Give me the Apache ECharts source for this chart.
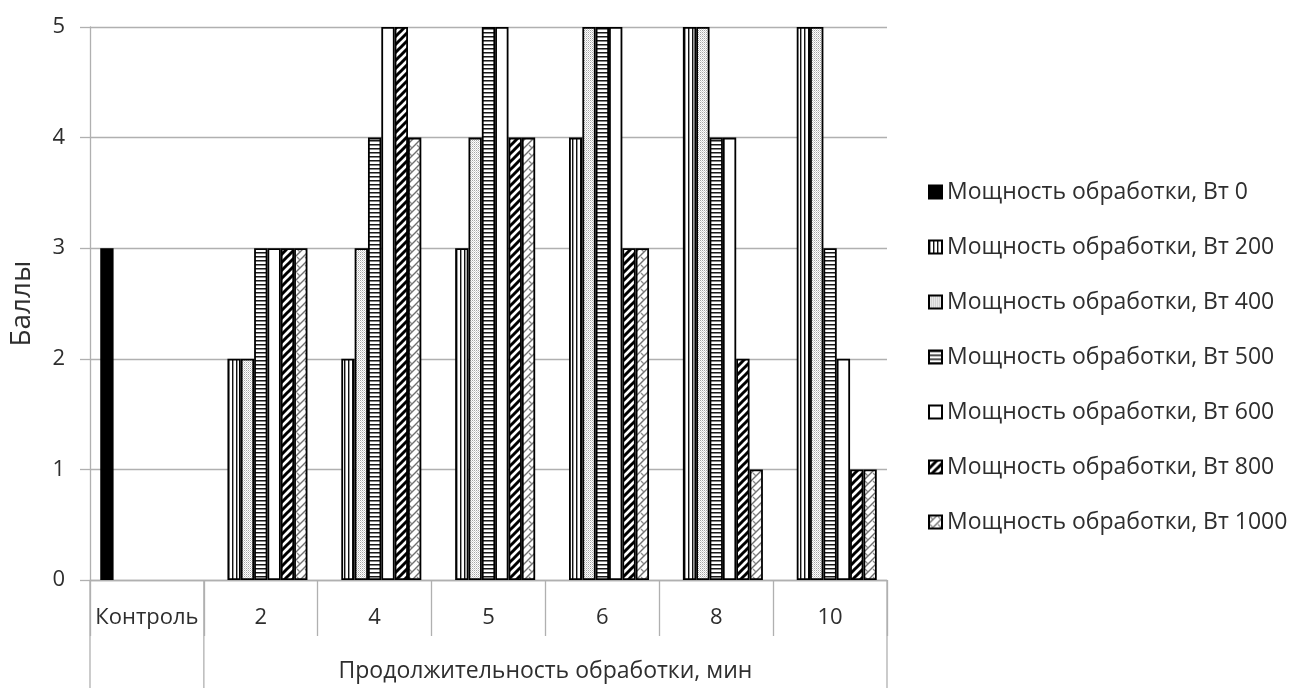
<!DOCTYPE html>
<html>
<head>
<meta charset="utf-8">
<title>Баллы</title>
<script src="https://cdn.jsdelivr.net/npm/echarts@6/dist/echarts.min.js"></script>
<style>
  html, body { margin: 0; padding: 0; background: #fff; }
  #chart { width: 1297px; height: 688px; }
</style>
</head>
<body>
<div id="chart"></div>
<script>
// Duration of treatment, min (first label is the untreated control)
const categories = ['Контроль', '2', '4', '5', '6', '8', '10'];
const groupTitle = 'Продолжительность обработки, мин';
const yTicks = [0, 1, 2, 3, 4, 5];

// Scores per treatment power, W
const seriesNames = [
  'Мощность обработки, Вт 0',
  'Мощность обработки, Вт 200',
  'Мощность обработки, Вт 400',
  'Мощность обработки, Вт 500',
  'Мощность обработки, Вт 600',
  'Мощность обработки, Вт 800',
  'Мощность обработки, Вт 1000'
];
const w0    = [3, null, null, null, null, null, null];
const w200  = [null, 2, 2, 3, 4, 5, 5];
const w400  = [null, 2, 3, 4, 5, 5, 5];
const w500  = [null, 3, 4, 5, 5, 4, 3];
const w600  = [null, 3, 5, 5, 5, 4, 2];
const w800  = [null, 3, 5, 4, 3, 2, 1];
const w1000 = [null, 3, 4, 4, 3, 1, 1];
const seriesValues = [w0, w200, w400, w500, w600, w800, w1000];

const FONT = '"Open Sans", "Noto Sans", sans-serif';
const TEXT = '#2e2e2e';
const GRID = '#b0b0b0';

// Monochrome fill patterns drawn on small tiles
function tile(w, h, draw) {
  const c = document.createElement('canvas');
  c.width = w; c.height = h;
  const ctx = c.getContext('2d');
  ctx.fillStyle = '#fff';
  ctx.fillRect(0, 0, w, h);
  draw(ctx, w, h);
  return { image: c, repeat: 'repeat' };
}
function diag(ctx, w, h, color, width) {
  ctx.strokeStyle = color;
  ctx.lineWidth = width;
  ctx.beginPath();
  ctx.moveTo(-1, h + 1); ctx.lineTo(w + 1, -1);
  ctx.moveTo(-w / 2 - 1, h / 2 + 1); ctx.lineTo(w / 2 + 1, -h / 2 - 1);
  ctx.moveTo(w / 2 - 1, h * 1.5 + 1); ctx.lineTo(w * 1.5 + 1, h / 2 - 1);
  ctx.stroke();
}
const fills = [
  '#000',
  tile(4, 4, (ctx) => { ctx.fillStyle = '#111'; ctx.fillRect(0, 0, 1, 4); ctx.fillStyle = '#999'; ctx.fillRect(1, 0, 1, 4); }),
  tile(2, 2, (ctx) => { ctx.fillStyle = '#a6a6a6'; ctx.fillRect(0, 0, 1, 1); ctx.fillStyle = '#d4d4d4'; ctx.fillRect(1, 1, 1, 1); }),
  tile(4, 4, (ctx) => { ctx.fillStyle = '#1a1a1a'; ctx.fillRect(0, 0, 4, 1); ctx.fillStyle = '#888'; ctx.fillRect(0, 1, 4, 1); }),
  '#fff',
  tile(8, 8, (ctx, w, h) => diag(ctx, w, h, '#000', 3)),
  tile(8, 8, (ctx, w, h) => {
    diag(ctx, w, h, '#6f6f6f', 1.4);
    ctx.strokeStyle = '#8a8a8a';
    ctx.lineWidth = 1.2;
    ctx.beginPath();
    ctx.moveTo(1, 1); ctx.lineTo(4, 4);
    ctx.stroke();
  })
];

const chart = echarts.init(document.getElementById('chart'), null, { renderer: 'canvas' });

const option = {
  backgroundColor: '#fff',
  animation: false,
  textStyle: { fontFamily: FONT, color: TEXT },
  grid: { left: 90, right: 410, top: 27, bottom: 108, containLabel: false, outerBoundsMode: 'none' },
  legend: {
    orient: 'vertical',
    left: 928,
    top: 180,
    padding: 0,
    itemWidth: 13,
    itemHeight: 13,
    itemGap: 31,
    itemTextGap: 7,
    icon: 'rect',
    textStyle: { fontFamily: FONT, fontSize: 23, color: TEXT, lineHeight: 24 },
    data: seriesNames
  },
  xAxis: {
    type: 'category',
    data: categories,
    axisLine: { lineStyle: { color: GRID, width: 1.3 } },
    axisTick: { show: true, interval: 0, length: 56, lineStyle: { color: GRID, width: 1.3 } },
    axisLabel: { interval: 0, fontFamily: FONT, fontSize: 22, color: TEXT, margin: 27 },
    splitLine: { show: false }
  },
  yAxis: {
    type: 'value',
    min: yTicks[0],
    max: yTicks[yTicks.length - 1],
    interval: 1,
    name: 'Баллы',
    nameLocation: 'middle',
    nameRotate: 90,
    nameGap: 54,
    nameTextStyle: { fontFamily: FONT, fontSize: 28, color: TEXT },
    axisLine: { show: true, lineStyle: { color: GRID, width: 1.3 } },
    axisTick: { show: true, length: 10, lineStyle: { color: GRID, width: 1.3 } },
    axisLabel: { fontFamily: FONT, fontSize: 22, color: TEXT, margin: 25 },
    splitLine: { lineStyle: { color: GRID, width: 1.3 } }
  },
  series: seriesNames.map((name, i) => ({
    name: name,
    type: 'bar',
    data: seriesValues[i],
    barGap: '0%',
    barCategoryGap: '18%',
    itemStyle: { color: fills[i], borderColor: '#000', borderWidth: 1.8 }
  }))
};
chart.setOption(option);

// Two-level category table below the plot: long separators and the group title
const c0 = chart.convertToPixel({ xAxisIndex: 0 }, categories[0]);
const c1 = chart.convertToPixel({ xAxisIndex: 0 }, categories[1]);
const step = c1 - c0;
const left = c0 - step / 2;
const groupLeft = left + step;
const right = left + step * categories.length;
const base = chart.convertToPixel({ yAxisIndex: 0 }, 0);
const H = chart.getHeight();
const vline = (x) => ({
  type: 'line',
  shape: { x1: x, y1: base, x2: x, y2: H },
  style: { stroke: GRID, lineWidth: 1.3 },
  silent: true
});
chart.setOption({
  graphic: [
    vline(left),
    vline(groupLeft),
    vline(right),
    {
      type: 'text',
      x: (groupLeft + right) / 2,
      y: base + 91,
      style: {
        text: groupTitle,
        fontFamily: FONT,
        fontSize: 23,
        fill: TEXT,
        align: 'center',
        verticalAlign: 'middle'
      },
      silent: true
    }
  ]
});
</script>
</body>
</html>
